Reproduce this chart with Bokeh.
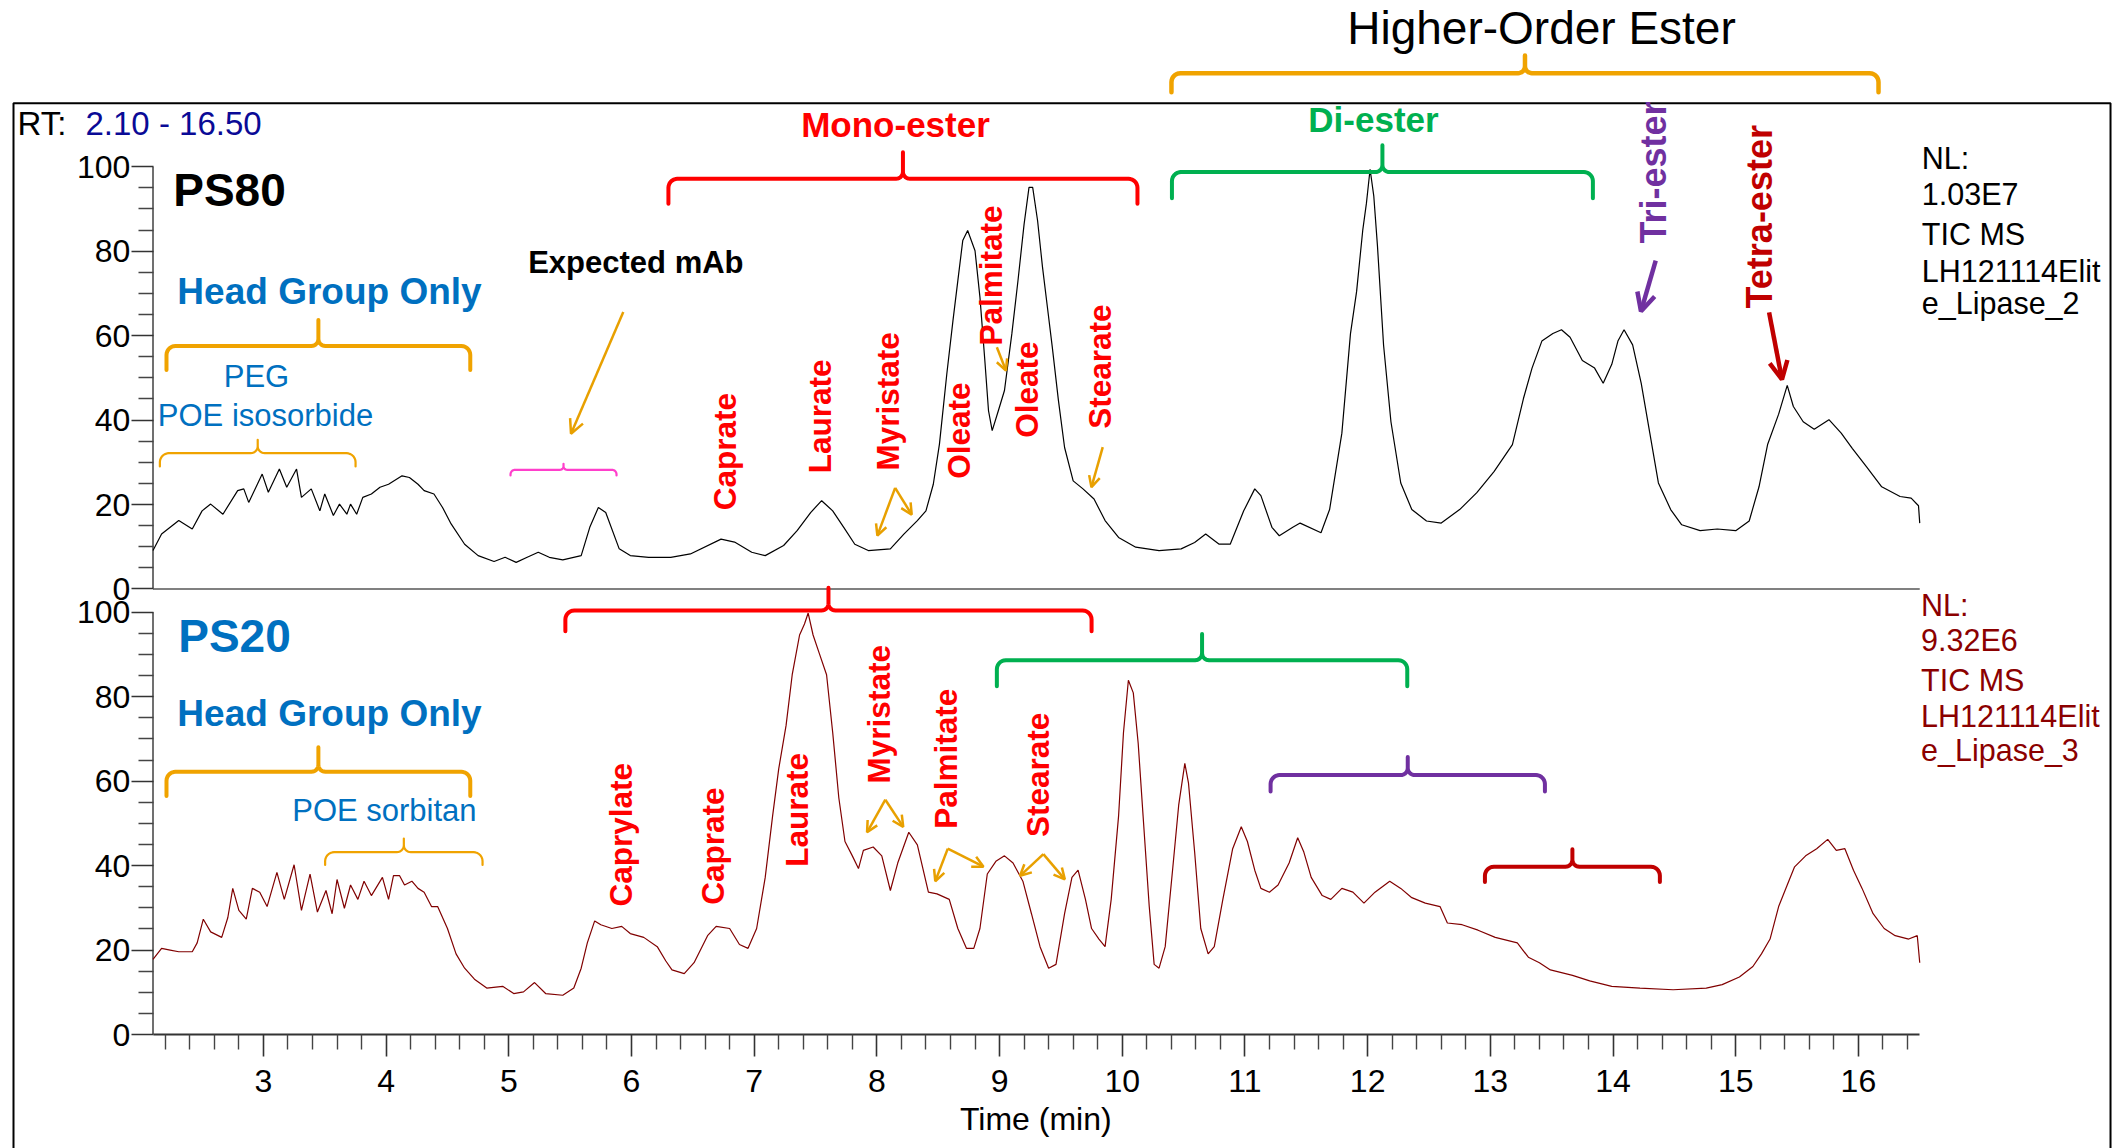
import numpy as np
from bokeh.plotting import figure
from bokeh.models import (Range1d, LinearAxis, FixedTicker, Label, Arrow, OpenHead)
from bokeh.embed import file_html
from bokeh.resources import INLINE

# ---------------- data ----------------
ps80_time = [2.10, 2.17, 2.31, 2.42, 2.50, 2.57, 2.67, 2.79, 2.84, 2.88, 2.99, 3.04, 3.13, 3.19,
             3.27, 3.31, 3.39, 3.46, 3.50, 3.57, 3.62, 3.68, 3.71, 3.76, 3.81, 3.88, 3.95, 4.02,
             4.13, 4.19, 4.26, 4.31, 4.39, 4.46, 4.53, 4.64, 4.75, 4.88, 4.97, 5.06, 5.15, 5.24,
             5.33, 5.44, 5.59, 5.66, 5.73, 5.79, 5.90, 5.99, 6.14, 6.32, 6.48, 6.73, 6.84, 6.98,
             7.09, 7.24, 7.35, 7.46, 7.55, 7.64, 7.73, 7.82, 7.93, 8.11, 8.22, 8.33, 8.40, 8.46,
             8.51, 8.57, 8.62, 8.66, 8.70, 8.74, 8.76, 8.80, 8.84, 8.88, 8.91, 8.94, 8.99, 9.04,
             9.10, 9.15, 9.20, 9.24, 9.27, 9.31, 9.35, 9.39, 9.43, 9.48, 9.53, 9.60, 9.68, 9.77,
             9.86, 9.97, 10.11, 10.30, 10.48, 10.59, 10.68, 10.79, 10.88, 10.99, 11.08, 11.13,
             11.22, 11.28, 11.39, 11.45, 11.62, 11.69, 11.79, 11.86, 11.91, 11.96, 11.99, 12.02,
             12.05, 12.08, 12.13, 12.19, 12.27, 12.36, 12.48, 12.60, 12.75, 12.89, 13.03, 13.18,
             13.27, 13.34, 13.42, 13.51, 13.58, 13.65, 13.75, 13.85, 13.92, 13.99, 14.04, 14.09,
             14.16, 14.23, 14.30, 14.37, 14.47, 14.56, 14.71, 14.85, 15.00, 15.11, 15.19, 15.26,
             15.35, 15.42, 15.47, 15.55, 15.64, 15.76, 15.86, 15.95, 16.07, 16.19, 16.34, 16.43,
             16.49, 16.50]
ps80_signal = [9.1, 13.0, 16.2, 14.2, 18.5, 20.1, 17.7, 23.3, 23.7, 20.5, 27.2, 22.9, 28.4, 24.1,
               28.4, 21.7, 23.7, 18.5, 22.5, 17.4, 20.1, 17.7, 20.1, 17.7, 21.7, 22.5, 24.1, 24.8,
               26.8, 26.4, 24.8, 23.3, 22.5, 19.3, 15.4, 10.6, 7.9, 6.5, 7.5, 6.3, 7.5, 8.7,
               7.5, 6.9, 7.9, 14.6, 19.3, 18.1, 9.5, 7.9, 7.5, 7.5, 8.3, 11.8, 11.1, 8.7,
               7.9, 10.3, 13.8, 18.1, 20.9, 18.5, 14.6, 10.6, 9.1, 9.5, 13.0, 16.2, 18.5, 24.8,
               34.3, 50.9, 63.5, 73.0, 82.5, 84.9, 83.3, 80.1, 69.1, 54.1, 42.2, 37.5, 42.2, 47.0,
               60.4, 73.0, 86.4, 95.1, 95.1, 87.2, 76.2, 66.7, 57.2, 44.6, 33.5, 25.6, 23.7, 21.3,
               16.2, 12.2, 9.9, 9.1, 9.5, 11.0, 13.0, 10.6, 10.6, 18.5, 23.7, 22.1,
               14.6, 12.6, 14.6, 15.6, 13.3, 18.8, 36.9, 60.4, 70.4, 84.9, 91.3, 99.4,
               93.1, 81.3, 57.7, 39.6, 25.1, 18.8, 16.1, 15.6, 18.8, 22.8, 27.8, 34.2,
               45.1, 52.3, 58.7, 60.5, 61.4, 59.6, 54.1, 52.3, 48.7, 53.2, 58.7, 61.4,
               57.8, 48.7, 36.9, 25.1, 18.8, 15.2, 13.8, 14.2, 13.8, 16.1, 24.2, 34.2,
               41.4, 48.2, 43.2, 39.6, 37.8, 40.1, 36.9, 33.3, 28.8, 24.2, 21.9, 21.5,
               19.7, 15.6]

ps20_time = [2.10, 2.17, 2.24, 2.31, 2.42, 2.46, 2.51, 2.57, 2.66, 2.71, 2.75, 2.80, 2.86, 2.91,
             2.97, 3.03, 3.11, 3.17, 3.25, 3.31, 3.38, 3.44, 3.51, 3.56, 3.60, 3.66, 3.71, 3.77,
             3.82, 3.88, 3.97, 4.02, 4.06, 4.11, 4.15, 4.21, 4.26, 4.31, 4.37, 4.42, 4.50, 4.57,
             4.64, 4.72, 4.82, 4.95, 5.04, 5.12, 5.21, 5.30, 5.44, 5.53, 5.59, 5.64, 5.70, 5.75,
             5.84, 5.92, 5.99, 6.10, 6.21, 6.28, 6.33, 6.43, 6.51, 6.62, 6.69, 6.80, 6.88, 6.95,
             7.02, 7.09, 7.15, 7.20, 7.26, 7.31, 7.37, 7.41, 7.44, 7.48, 7.53, 7.59, 7.64, 7.69,
             7.74, 7.80, 7.85, 7.89, 7.97, 8.04, 8.11, 8.17, 8.26, 8.33, 8.42, 8.49, 8.59, 8.66,
             8.73, 8.79, 8.84, 8.90, 8.97, 9.04, 9.11, 9.19, 9.26, 9.33, 9.40, 9.46, 9.53, 9.59,
             9.64, 9.70, 9.75, 9.81, 9.86, 9.91, 9.97, 10.01, 10.05, 10.09, 10.13, 10.17, 10.22,
             10.26, 10.30, 10.35, 10.41, 10.46, 10.51, 10.54, 10.59, 10.64, 10.70, 10.75, 10.82,
             10.90, 10.97, 11.02, 11.08, 11.13, 11.20, 11.27, 11.36, 11.43, 11.48, 11.54, 11.63,
             11.70, 11.79, 11.88, 11.97, 12.06, 12.18, 12.27, 12.36, 12.47, 12.59, 12.65, 12.77,
             12.90, 13.04, 13.22, 13.31, 13.40, 13.49, 13.67, 13.81, 13.99, 14.22, 14.49, 14.76,
             14.89, 15.03, 15.14, 15.21, 15.28, 15.35, 15.42, 15.48, 15.57, 15.66, 15.75, 15.82,
             15.89, 15.96, 16.03, 16.12, 16.21, 16.30, 16.41, 16.48, 16.50]
ps20_signal = [17.8, 20.4, 20.0, 19.6, 19.6, 21.7, 27.3, 24.3, 23.0, 27.7, 34.6, 29.4, 27.3, 34.6,
               33.7, 30.3, 38.4, 32.0, 40.2, 29.4, 38.0, 29.0, 34.1, 28.6, 36.7, 29.9, 35.4, 32.0,
               36.3, 32.9, 37.2, 32.0, 37.6, 37.6, 35.4, 36.3, 34.6, 33.7, 30.3, 30.3, 25.1, 19.1,
               15.7, 13.1, 11.0, 11.4, 9.7, 10.1, 12.3, 9.7, 9.3, 11.0, 15.7, 21.7, 26.9, 26.0,
               25.1, 25.6, 23.9, 23.0, 20.8, 17.4, 15.3, 14.4, 17.0, 23.4, 25.6, 25.1, 21.3, 20.4,
               25.1, 37.2, 51.7, 62.9, 73.2, 85.2, 94.6, 97.2, 99.8, 94.6, 90.3, 85.2, 71.5, 56.0,
               45.7, 42.3, 39.3, 43.6, 44.4, 42.3, 34.1, 40.6, 47.9, 44.9, 33.7, 33.3, 32.0, 25.1,
               20.4, 20.4, 25.1, 38.0, 41.0, 42.3, 40.6, 36.3, 28.6, 20.8, 15.7, 16.6, 28.6, 37.2,
               38.9, 32.0, 25.1, 22.6, 20.8, 32.0, 51.7, 71.5, 83.9, 80.9, 68.9, 51.7, 30.3,
               16.6, 15.7, 20.8, 38.9, 54.3, 64.2, 59.5, 43.2, 25.1, 19.1, 20.8, 32.0,
               44.0, 49.2, 45.7, 38.9, 34.6, 33.7, 35.4, 40.6, 46.6, 43.2, 37.2, 32.9,
               32.0, 34.6, 33.7, 31.1, 33.7, 36.3, 34.6, 32.4, 31.1, 30.3, 26.4, 26.0,
               24.7, 23.0, 21.7, 18.3, 17.0, 15.3, 14.0, 12.7, 11.4, 11.0, 10.6, 11.0,
               11.8, 13.6, 16.1, 19.1, 22.6, 30.3, 35.4, 39.7, 42.3, 44.0, 46.2, 43.6,
               44.0, 38.9, 34.6, 28.6, 25.1, 23.4, 22.6, 23.4, 17.0]

rt_start, rt_end = 2.10, 16.50
x_tick_values = [3, 4, 5, 6, 7, 8, 9, 10, 11, 12, 13, 14, 15, 16]
y_tick_values = [0, 20, 40, 60, 80, 100]
nl_ps80 = ["NL:", "1.03E7", "TIC  MS", "LH121114Elit", "e_Lipase_2"]
nl_ps20 = ["NL:", "9.32E6", "TIC  MS", "LH121114Elit", "e_Lipase_3"]

# ---------------- geometry / style ----------------
W, H = 2121, 1148
AXIS_X_PX = 152.5            # canvas x of RT start
BASE_Y_PX = 1034.0           # canvas y of the PS20 zero line
PX_PER_MIN = 122.69
PX_PER_UNIT = 4.223
TOP_OFFSET = 105.5           # PS80 baseline, expressed in PS20 units
FONT = "Liberation Sans"
BLUE, RED, GREEN, PURPLE, DRED = "#0070C0", "#FF0000", "#00B050", "#7030A0", "#C00000"
ORANGE, MAGENTA, ARR = "#F0A300", "#FF3FCB", "#E8A000"

x0 = rt_start - AXIS_X_PX / PX_PER_MIN
x_range = Range1d(x0, x0 + W / PX_PER_MIN)
y0 = -(H - BASE_Y_PX) / PX_PER_UNIT
y1 = BASE_Y_PX / PX_PER_UNIT
y_range = Range1d(y0, y1)

p = figure(width=W, height=H, x_range=x_range, y_range=y_range,
           output_backend="svg", toolbar_location=None,
           x_axis_type=None, y_axis_type=None,
           min_border_left=0, min_border_right=0, min_border_top=0, min_border_bottom=0,
           outline_line_color=None, background_fill_color="white",
           border_fill_color="white")
p.xgrid.visible = False
p.ygrid.visible = False
p.extra_y_ranges = {"top": Range1d(y0 - TOP_OFFSET, y1 - TOP_OFFSET)}

# ---------------- axes (pinned to the data origin) ----------------
minor_x = [round(2.2 + 0.2 * i, 1) for i in range(72)]
minor_x = [m for m in minor_x if abs(m - round(m)) > 1e-6 and m < rt_end]
xaxis = LinearAxis(fixed_location=0.0, bounds=(rt_start, rt_end),
                   ticker=FixedTicker(ticks=x_tick_values, minor_ticks=minor_x),
                   major_label_text_font=FONT, major_label_text_font_size="32px",
                   major_label_text_color="black", major_label_standoff=-57,
                   axis_line_color="#333333", axis_line_width=2,
                   major_tick_line_color="#333333", major_tick_line_width=1.6,
                   minor_tick_line_color="#444444", minor_tick_line_width=1.4,
                   major_tick_in=22, major_tick_out=0, minor_tick_in=15, minor_tick_out=0)
p.add_layout(xaxis, "above")

FS = "\u2007"  # figure space: keeps the tick labels right-aligned
y_major = [float(v) for v in y_tick_values] + [v + TOP_OFFSET for v in y_tick_values]
y_minor_base = [v for v in range(5, 100, 5) if v % 20 != 0]
y_minor = [float(v) for v in y_minor_base] + [v + TOP_OFFSET for v in y_minor_base]
overrides = {}
for v in y_tick_values:
    txt = FS * (3 - len(str(v))) + str(v)
    overrides[float(v)] = txt
    overrides[v + TOP_OFFSET] = txt
yaxis = LinearAxis(fixed_location=rt_start,
                   ticker=FixedTicker(ticks=y_major, minor_ticks=y_minor),
                   major_label_overrides=overrides,
                   major_label_text_font=FONT, major_label_text_font_size="32px",
                   major_label_text_color="black", major_label_standoff=-76,
                   axis_line_color=None,
                   major_tick_line_color="#333333", major_tick_line_width=1.6,
                   minor_tick_line_color="#444444", minor_tick_line_width=1.4,
                   major_tick_in=22, major_tick_out=0, minor_tick_in=15, minor_tick_out=0)
p.add_layout(yaxis, "right")

# axis spines (separate for each panel, with a gap between them)
p.segment(x0=[rt_start], y0=[0], x1=[rt_start], y1=[100], line_color="#707070", line_width=2)
p.segment(x0=[rt_start], y0=[0], x1=[rt_start], y1=[100], line_color="#707070", line_width=2,
          y_range_name="top")
p.line([rt_start, rt_end], [0, 0], line_color="#808080", line_width=2, y_range_name="top")

# ---------------- chromatograms ----------------
p.line(ps80_time, ps80_signal, line_color="black", line_width=1.2, y_range_name="top")
p.line(ps20_time, ps20_signal, line_color="#800000", line_width=1.2)

# ---------------- outer frame ----------------
fx0, fx1, fy = 0.963, 18.055, 220.53
p.line([fx0, fx0, fx1, fx1], [y0 - 5, fy, fy, y0 - 5], line_color="black", line_width=2)


# ---------------- braces ----------------
def brace(t0, t1, y_bar, y_end, y_tip, r_end=9.0, r_tip=7.0):
    drop = (y_bar - y_end) * PX_PER_UNIT
    rise = (y_tip - y_bar) * PX_PER_UNIT
    re_ = min(r_end, drop * 0.8)
    rt = min(r_tip, rise * 0.6)
    X1 = (t1 - t0) * PX_PER_MIN
    XM = X1 / 2
    pts = [(0.0, -drop)]
    for a in np.linspace(np.pi, np.pi / 2, 8):
        pts.append((re_ + re_ * np.cos(a), -re_ + re_ * np.sin(a)))
    for a in np.linspace(-np.pi / 2, 0, 8):
        pts.append((XM - rt + rt * np.cos(a), rt + rt * np.sin(a)))
    pts.append((XM, rise))
    for a in np.linspace(np.pi, 1.5 * np.pi, 8):
        pts.append((XM + rt + rt * np.cos(a), rt + rt * np.sin(a)))
    for a in np.linspace(np.pi / 2, 0, 8):
        pts.append((X1 - re_ + re_ * np.cos(a), -re_ + re_ * np.sin(a)))
    pts.append((X1, -drop))
    xs = [t0 + px / PX_PER_MIN for px, _ in pts]
    ys = [y_bar + py / PX_PER_UNIT for _, py in pts]
    return xs, ys


braces = [
    # t_left, t_right, y_bar, y_end, y_tip, color, width
    (10.401, 16.164, 227.64, 223.14, 231.84, ORANGE, 4.5),   # Higher-order ester
    (2.210, 4.686, 163.04, 157.35, 169.19, ORANGE, 4),       # head group (PS80)
    (2.156, 3.751, 137.65, 134.50, 140.82, ORANGE, 2.2),     # PEG / POE isosorbide
    (5.014, 5.878, 133.72, 132.37, 135.14, MAGENTA, 2.2),    # expected mAb
    (6.301, 10.124, 202.63, 196.71, 208.93, RED, 4),         # mono-ester (PS80)
    (10.405, 13.836, 204.22, 198.03, 210.58, GREEN, 4),      # di-ester (PS80)
    (2.210, 4.686, 62.21, 56.45, 68.03, ORANGE, 4),          # head group (PS20)
    (3.503, 4.786, 43.17, 40.16, 46.41, ORANGE, 2.2),        # POE sorbitan
    (5.461, 9.750, 100.40, 95.50, 105.78, RED, 4),           # mono-ester (PS20)
    (8.978, 12.323, 88.63, 82.45, 94.81, GREEN, 4),          # di-ester (PS20)
    (11.209, 13.445, 61.43, 57.57, 65.74, PURPLE, 4),        # tri-ester (PS20)
    (12.956, 14.382, 39.73, 36.14, 43.85, DRED, 4),          # tetra-ester (PS20)
]
for t0, t1, yb, ye, yt, col, lw in braces:
    bx, by = brace(t0, t1, yb, ye, yt)
    p.line(bx, by, line_color=col, line_width=lw, line_cap="round", line_join="round")

# ---------------- text ----------------
SHIFT = 0.37   # baseline correction (fraction of font size)


def label(x, y, text, size, color="black", bold=False, align="left", angle=0.0):
    if angle == 0.0:
        y = y + SHIFT * size / PX_PER_UNIT
    else:
        x = x - SHIFT * size / PX_PER_MIN
    p.add_layout(Label(x=x, y=y, text=text, text_font=FONT, text_font_size=f"{size}px",
                       text_color=color, text_font_style="bold" if bold else "normal",
                       text_align=align, text_baseline="alphabetic", angle=angle))


label(0.9956, 212.88, "RT:", 33)
label(1.5498, 212.88, f"{rt_start:.2f} - {rt_end:.2f}", 33, color="#0A0A96")
label(13.4171, 234.19, "Higher-Order Ester", 46, align="center")
label(9.295, -22.90, "Time (min)", 32, align="center")

label(2.2646, 195.90, "PS80", 46, bold=True)
label(3.5386, 172.63, "Head Group Only", 37, color=BLUE, bold=True, align="center")
label(2.9436, 153.04, "PEG", 31, color=BLUE, align="center")
label(3.0169, 143.80, "POE isosorbide", 31, color=BLUE, align="center")
label(5.158, 180.13, "Expected mAb", 31, bold=True)
label(8.1518, 212.48, "Mono-ester", 35, color=RED, bold=True, align="center")
label(12.0478, 213.59, "Di-ester", 35, color=GREEN, bold=True, align="center")

V = np.pi / 2
for x, y, t in [(6.859, 124.14, "Caprate"), (7.635, 132.91, "Laurate"),
                (8.188, 133.55, "Myristate"), (8.762, 131.59, "Oleate"),
                (9.025, 163.15, "Palmitate"), (9.316, 141.30, "Oleate"),
                (9.916, 143.43, "Stearate")]:
    label(x, y, t, 31.5, color=RED, bold=True, angle=V)
label(14.438, 187.31, "Tri-ester", 36, color=PURPLE, bold=True, angle=V)
label(15.301, 171.92, "Tetra-ester", 36, color=DRED, bold=True, angle=V)

label(2.3054, 90.34, "PS20", 46, color=BLUE, bold=True)
label(3.5386, 72.77, "Head Group Only", 37, color=BLUE, bold=True, align="center")
label(3.986, 50.44, "POE sorbitan", 31, color=BLUE, align="center")
for x, y, t in [(6.008, 30.31, "Caprylate"), (6.761, 30.71, "Caprate"),
                (7.442, 39.73, "Laurate"), (8.115, 59.46, "Myristate"),
                (8.660, 48.73, "Palmitate"), (9.406, 46.77, "Stearate")]:
    label(x, y, t, 31.5, color=RED, bold=True, angle=V)

for s, y in zip(nl_ps80, [204.97, 196.38, 186.83, 178.24, 170.54]):
    label(16.517, y, s, 30.5)
for s, y in zip(nl_ps20, [98.93, 90.77, 81.34, 72.77, 64.60]):
    label(16.511, y, s, 30.5, color="#8B0000")


# ---------------- arrows ----------------
def arrow(xs, ys, xe, ye, color, lw, size):
    p.add_layout(Arrow(x_start=xs, y_start=ys, x_end=xe, y_end=ye, line_color=color,
                       line_width=lw,
                       end=OpenHead(size=size, line_color=color, line_width=lw)))


arrow(5.933, 171.07, 5.507, 142.27, ARR, 2.5, 14)
arrow(8.149, 129.43, 8.004, 118.13, ARR, 2.5, 11)
arrow(8.149, 129.43, 8.284, 123.11, ARR, 2.5, 11)
arrow(8.978, 162.75, 9.052, 157.23, ARR, 2.5, 11)
arrow(9.841, 139.07, 9.749, 129.60, ARR, 2.5, 11)
arrow(8.069, 55.60, 7.920, 47.88, ARR, 2.5, 11)
arrow(8.069, 55.60, 8.215, 49.16, ARR, 2.5, 11)
arrow(8.578, 44.02, 8.476, 36.30, ARR, 2.5, 11)
arrow(8.578, 44.02, 8.869, 39.73, ARR, 2.5, 11)
arrow(9.357, 42.72, 9.167, 37.58, ARR, 2.5, 11)
arrow(9.357, 42.72, 9.532, 36.73, ARR, 2.5, 11)
arrow(14.348, 183.23, 14.228, 171.25, PURPLE, 4.5, 18)
arrow(15.272, 171.00, 15.377, 155.13, DRED, 4.5, 18)

open("out.html", "w").write(file_html(p, INLINE))
